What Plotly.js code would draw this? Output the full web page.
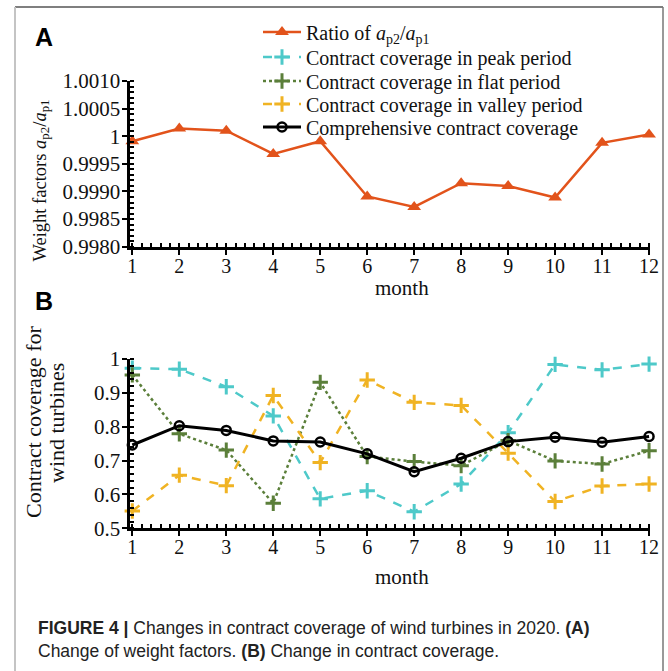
<!DOCTYPE html>
<html>
<head>
<meta charset="utf-8">
<script src="https://cdn.plot.ly/plotly-3.0.1.min.js"></script>
<style>
html,body{margin:0;padding:0;background:#fff;}
#chart{width:668px;height:671px;}
</style>
</head>
<body>
<div id="chart"></div>
<script>
// ---- data ----
var months = [1,2,3,4,5,6,7,8,9,10,11,12];
var ratioA = [0.99991,1.00014,1.00010,0.99968,0.99991,0.99891,0.99872,0.99915,0.99910,0.99889,0.99988,1.00003];
var peak = [0.973,0.970,0.918,0.832,0.587,0.611,0.549,0.631,0.782,0.984,0.968,0.985];
var flat = [0.953,0.779,0.731,0.574,0.931,0.712,0.697,0.685,0.759,0.699,0.690,0.729];
var valley = [0.551,0.657,0.626,0.892,0.694,0.938,0.872,0.863,0.722,0.579,0.625,0.631];
var comprehensive = [0.746,0.803,0.789,0.758,0.755,0.720,0.667,0.707,0.756,0.769,0.754,0.771];
var yTickValsA = [0.9980,0.9985,0.9990,0.9995,1.0000,1.0005,1.0010];
var yTickTextA = ["0.9980","0.9985","0.9990","0.9995","1","1.0005","1.0010"];
var yTickValsB = [0.5,0.6,0.7,0.8,0.9,1];
var yTickTextB = ["0.5","0.6","0.7","0.8","0.9","1"];
var seriesNames = [
  "Ratio of <i>a</i><sub>p2</sub>/<i>a</i><sub>p1</sub>",
  "Contract coverage in peak period",
  "Contract coverage in flat period",
  "Contract coverage in valley period",
  "Comprehensive contract coverage"
];

// ---- layout helpers (page pixels -> paper fraction) ----
var W = 668, H = 671;
function PX(x){ return x / W; }
function PY(y){ return 1 - y / H; }

var serif = "Liberation Serif, Times New Roman, serif";
var sans = "Liberation Sans, Arial, sans-serif";

function plusMarker(c){ return {symbol:"cross-thin", size:11, color:c, line:{color:c, width:3}}; }

var traces = [
  {x:months, y:ratioA, name:seriesNames[0], mode:"lines+markers", xaxis:"x", yaxis:"y", legend:"legend",
   line:{color:"#E2531B", width:2.5}, marker:{symbol:"triangle-up", size:12, color:"#E2531B"}, cliponaxis:false},
  {x:months, y:peak, name:seriesNames[1], mode:"lines+markers", xaxis:"x2", yaxis:"y2", legend:"legend2",
   line:{color:"#4EC9C9", width:2.5, dash:"dash"}, marker:plusMarker("#4EC9C9"), cliponaxis:false},
  {x:months, y:flat, name:seriesNames[2], mode:"lines+markers", xaxis:"x2", yaxis:"y2", legend:"legend3",
   line:{color:"#5B7F3A", width:2.5, dash:"dot"}, marker:plusMarker("#5B7F3A"), cliponaxis:false},
  {x:months, y:valley, name:seriesNames[3], mode:"lines+markers", xaxis:"x2", yaxis:"y2", legend:"legend4",
   line:{color:"#F0B323", width:2.5, dash:"dash"}, marker:plusMarker("#F0B323"), cliponaxis:false},
  {x:months, y:comprehensive, name:seriesNames[4], mode:"lines+markers", xaxis:"x2", yaxis:"y2", legend:"legend5",
   line:{color:"#000000", width:3}, marker:{symbol:"circle-open", size:9, color:"#000", line:{width:2.5, color:"#000"}}, cliponaxis:false}
];

function xAxis(anchor){
  return {
    domain:[PX(129.5), PX(650)], anchor:anchor, range:[0.94, 12.02],
    tickvals:months, ticktext:months.map(String),
    showline:true, linecolor:"#000", linewidth:3, mirror:false,
    ticks:"outside", ticklen:5, tickwidth:2, tickcolor:"#000",
    minor:{dtick:0.2, ticks:"inside", ticklen:4, tickwidth:2, tickcolor:"#000"},
    showgrid:false, zeroline:false, ticklabelstandoff:-6,
    tickfont:{family:serif, size:20, color:"#111"}
  };
}
function yAxis(dom, anchor, rng, vals, txt, mdt){
  return {
    domain:dom, anchor:anchor, range:rng,
    tickvals:vals, ticktext:txt,
    showline:true, linecolor:"#000", linewidth:3,
    ticks:"outside", ticklen:5, tickwidth:2, tickcolor:"#000",
    minor:{dtick:mdt, ticks:"inside", ticklen:4, tickwidth:2, tickcolor:"#000"},
    showgrid:false, zeroline:false, ticklabelstandoff:-3,
    tickfont:{family:serif, size:21, color:"#111"}
  };
}
function legendAt(rowY){
  return {x:PX(258), y:PY(rowY), xanchor:"left", yanchor:"middle",
          bgcolor:"rgba(0,0,0,0)", borderwidth:0, itemwidth:38,
          font:{family:serif, size:20, color:"#111"}};
}

var layout = {
  width:W, height:H,
  margin:{l:0, r:0, t:0, b:0},
  paper_bgcolor:"#fff", plot_bgcolor:"rgba(0,0,0,0)",
  showlegend:true,
  legend:legendAt(32),
  legend2:legendAt(57),
  legend3:legendAt(81),
  legend4:legendAt(104),
  legend5:legendAt(127),
  xaxis:xAxis("y"),
  yaxis:yAxis([PY(246.7), PY(81)], "x", [0.9980, 1.0010], yTickValsA, yTickTextA, 0.0001),
  xaxis2:xAxis("y2"),
  yaxis2:yAxis([PY(528.3), PY(359)], "x2", [0.5, 1.0], yTickValsB, yTickTextB, 0.02),
  annotations:[
    {text:"<b>A</b>", xref:"paper", yref:"paper", x:PX(33), y:PY(37), xanchor:"left", yanchor:"middle", showarrow:false,
     font:{family:sans, size:25, color:"#000"}},
    {text:"<b>B</b>", xref:"paper", yref:"paper", x:PX(33), y:PY(301), xanchor:"left", yanchor:"middle", showarrow:false,
     font:{family:sans, size:25, color:"#000"}},
    {text:"Weight factors <i>a</i><sub>p2</sub>/<i>a</i><sub>p1</sub>", xref:"paper", yref:"paper", x:PX(40.5), y:PY(181),
     xanchor:"center", yanchor:"middle", textangle:-90, showarrow:false, font:{family:serif, size:18.5, color:"#111"}},
    {text:"month", xref:"paper", yref:"paper", x:PX(402), y:PY(288), xanchor:"center", yanchor:"middle", showarrow:false,
     font:{family:serif, size:21, color:"#111"}},
    {text:"Contract coverage for", xref:"paper", yref:"paper", x:PX(33), y:PY(422),
     xanchor:"center", yanchor:"middle", textangle:-90, showarrow:false, font:{family:serif, size:22, color:"#111"}},
    {text:"wind turbines", xref:"paper", yref:"paper", x:PX(56), y:PY(423),
     xanchor:"center", yanchor:"middle", textangle:-90, showarrow:false, font:{family:serif, size:22, color:"#111"}},
    {text:"month", xref:"paper", yref:"paper", x:PX(402), y:PY(577), xanchor:"center", yanchor:"middle", showarrow:false,
     font:{family:serif, size:21, color:"#111"}},
    {text:"<b>FIGURE 4 |</b> Changes in contract coverage of wind turbines in 2020. <b>(A)</b><br>Change of weight factors. <b>(B)</b> Change in contract coverage.",
     xref:"paper", yref:"paper", x:PX(36), y:PY(639), xanchor:"left", yanchor:"middle", align:"left", showarrow:false,
     font:{family:sans, size:17.5, color:"#222"}}
  ],
  shapes:[
    {type:"line", xref:"paper", yref:"paper", x0:PX(15), x1:PX(663), y0:PY(7), y1:PY(7), line:{color:"#555", width:1.5}},
    {type:"line", xref:"paper", yref:"paper", x0:PX(15), x1:PX(15), y0:PY(7), y1:PY(671), line:{color:"#c4c4c4", width:2}},
    {type:"line", xref:"paper", yref:"paper", x0:PX(663), x1:PX(663), y0:PY(7), y1:PY(671), line:{color:"#777", width:1.5}}
  ]
};

Plotly.newPlot("chart", traces, layout, {displayModeBar:false, staticPlot:true});
</script>
</body>
</html>
